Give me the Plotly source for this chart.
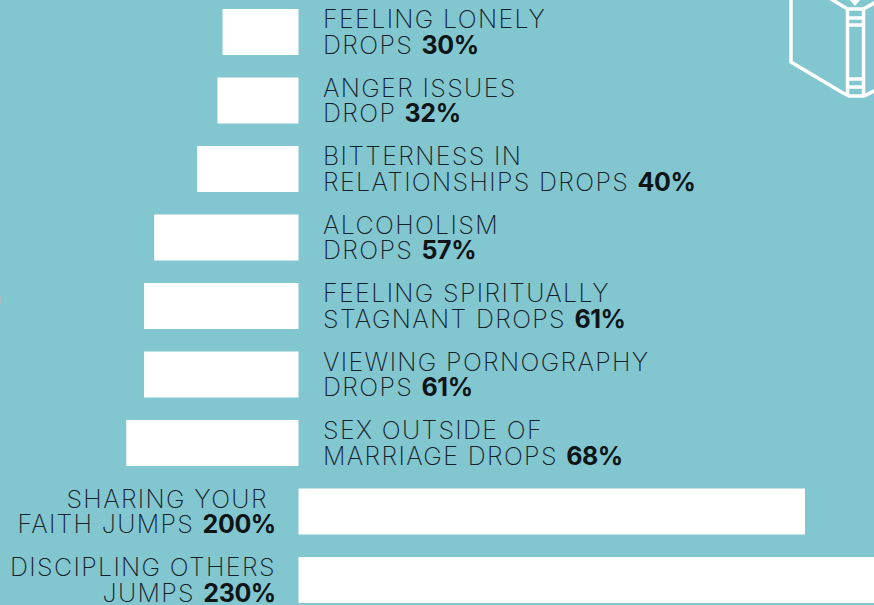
import plotly.graph_objects as go

# Percent change per row; drops are negative, jumps are positive
row_names = ["Feeling lonely", "Anger issues", "Bitterness", "Alcoholism", "Spiritually stagnant",
             "Pornography", "Sex outside of marriage", "Sharing faith", "Discipling others"]
changes = [-30, -32, -40, -57, -61, -61, -68, 200, 230]
line_one = ["FEELING LONELY", "ANGER ISSUES", "BITTERNESS IN", "ALCOHOLISM", "FEELING SPIRITUALLY",
            "VIEWING PORNOGRAPHY", "SEX OUTSIDE OF", "SHARING YOUR ", "DISCIPLING OTHERS"]
line_two = ["DROPS ", "DROP ", "RELATIONSHIPS DROPS ", "DROPS ", "STAGNANT DROPS ",
            "DROPS ", "MARRIAGE DROPS ", "FAITH JUMPS ", "JUMPS "]

WIDTH, HEIGHT = 874, 605
BG = "#82c6d0"
INK = "#14212a"
FONT = "Inter"
SIZE = 25
PX_PER_PCT = 2.5325
ZERO_PX = 298.5
ROW_PX = 68.5
FIRST_ROW_PX = 32

rows = list(range(len(changes)))
fig = go.Figure(go.Bar(y=rows, x=changes, orientation="h", width=46 / ROW_PX,
                       marker=dict(color="white", line_width=0), hoverinfo="skip"))

for r, a, b, v in zip(rows, line_one, line_two, changes):
    # Labels sit on the opposite side of the zero line from their bar
    right = v > 0
    common = dict(x=0, y=r, xref="x", yref="y", showarrow=False,
                  xanchor="right" if right else "left",
                  xshift=-21 if right else 22.5,
                  font=dict(family=FONT, size=SIZE, color=INK, weight=200))
    fig.add_annotation(text=a, yshift=13, **common)
    fig.add_annotation(text=f"{b}<b>{abs(v)}%</b>", yshift=-12.5, **common)


def px(points):
    """Build an SVG path in paper coordinates from window pixels."""
    cmds = []
    for i, (x, y) in enumerate(points):
        cmds.append(f"{'M' if i == 0 else 'L'}{x / WIDTH:.5f},{1 - y / HEIGHT:.5f}")
    return " ".join(cmds)


# Open-book icon clipped by the top-right corner
book_lines = [
    [(791, -4), (791, 62), (843, 93), (849, 96), (864, 96), (876, 90)],
    [(847.5, 9), (847.5, 96)],
    [(863.5, 9), (863.5, 96)],
    [(847.5, 9), (863.5, 9)],
    [(847.5, 18), (863.5, 18)],
    [(847.5, 25), (863.5, 25)],
    [(847.5, 79), (863.5, 79)],
    [(847.5, 87), (863.5, 87)],
    [(826, -4), (847.5, 9)],
    [(863.5, 9), (876, 2)],
]
for pts in book_lines:
    fig.add_shape(type="path", path=px(pts), xref="paper", yref="paper",
                  line=dict(color="white", width=3.5))
fig.add_shape(type="path", path=px([(849, -1), (855, 6), (861, -1)]) + " Z",
              xref="paper", yref="paper", fillcolor="white", line_width=0)

# Sliver of a neighbouring element at the left edge
fig.add_shape(type="path", path=px([(0.5, 296), (0.5, 304)]), xref="paper", yref="paper",
              line=dict(color="#a6bcc0", width=1.5))

fig.update_layout(
    width=WIDTH, height=HEIGHT, margin=dict(l=0, r=0, t=0, b=0),
    paper_bgcolor=BG, plot_bgcolor=BG, showlegend=False,
    xaxis=dict(visible=False, range=[-ZERO_PX / PX_PER_PCT, (WIDTH - ZERO_PX) / PX_PER_PCT]),
    yaxis=dict(visible=False, range=[(HEIGHT - FIRST_ROW_PX) / ROW_PX, -FIRST_ROW_PX / ROW_PX]),
)

# Open up the tracking of the labels, keeping each one pinned to its anchored edge
tracking = """
document.querySelectorAll('.annotation-text').forEach(function (t) {
  var before = t.getComputedTextLength();
  var box = t.getBoundingClientRect();
  var rightAligned = box.left + box.width / 2 < 298;
  t.style.letterSpacing = '1.35px';
  t.querySelectorAll('tspan').forEach(function (s) {
    if ((s.style.fontWeight || '').indexOf('bold') >= 0) {
      s.style.letterSpacing = '-0.4px';
      s.style.fill = '#0f1417';
    }
  });
  var grown = t.getComputedTextLength() - before;
  t.setAttribute('transform', 'translate(' + (rightAligned ? -grown / 2 : grown / 2) + ',0)');
});
"""
fig.write_html("out.html", config={"displayModeBar": False}, post_script=tracking)
